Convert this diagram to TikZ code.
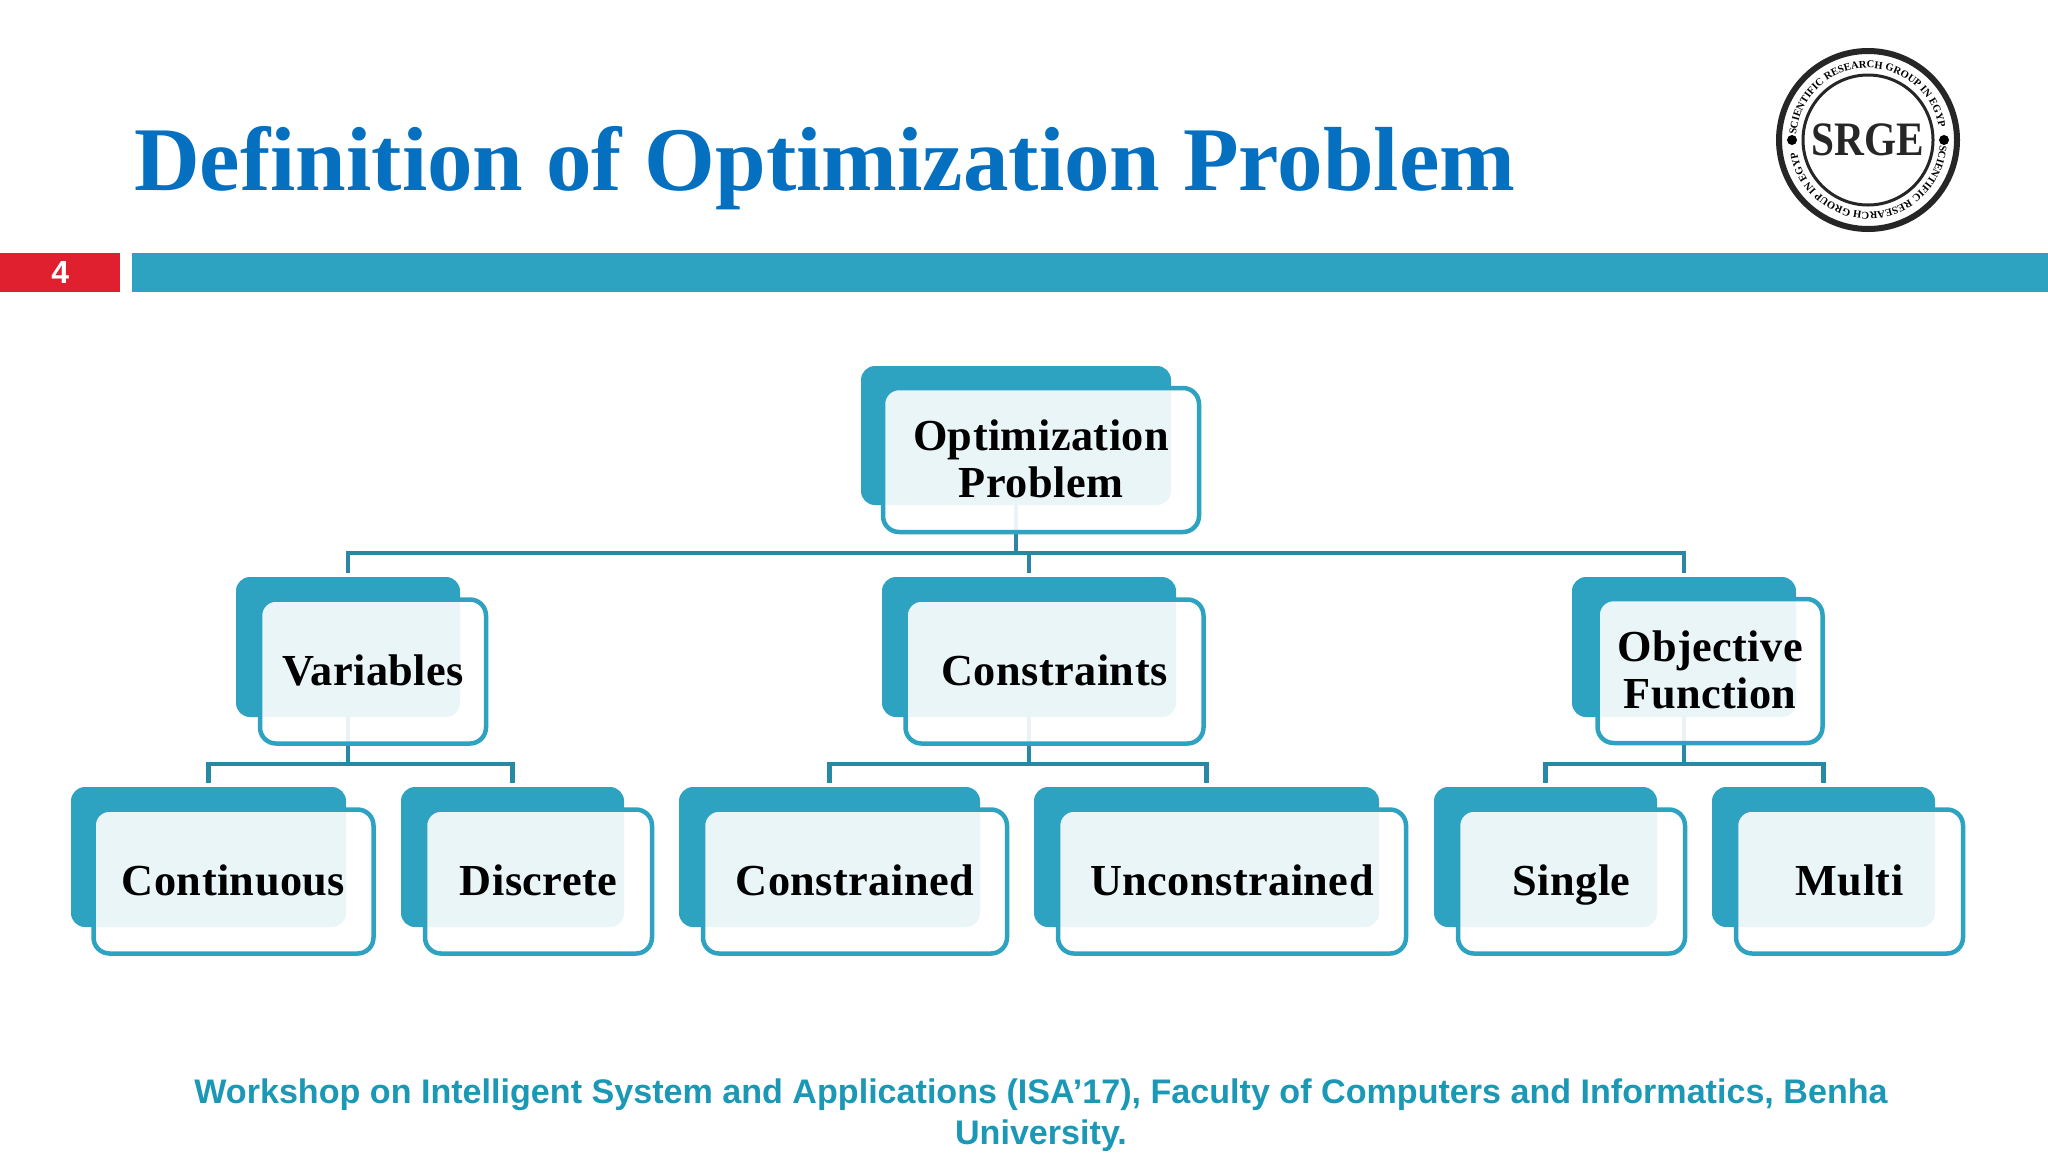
\documentclass[tikz,border=0pt]{standalone}
\usepackage{graphicx}
\usepackage{fontspec}
\setmainfont{Liberation Serif}
\newfontfamily\boxfont[LetterSpace=1]{Liberation Serif}
\newfontfamily\footfont{Liberation Sans}
\usetikzlibrary{decorations.text}
\definecolor{slideteal}{HTML}{2EA2C1}
\definecolor{railteal}{HTML}{2C85A2}
\definecolor{titleblue}{HTML}{0570C0}
\definecolor{barred}{HTML}{E0202E}
\definecolor{footteal}{HTML}{1B98B6}
\tikzset{
	backbox/.style={fill=slideteal,rounded corners=14pt,inner sep=0pt,minimum height=140pt},
	frontbox/.style={draw=slideteal,line width=4.5pt,fill=white,fill opacity=0.9,text opacity=1,rounded corners=16pt,inner sep=0pt,minimum height=144pt,align=center,text=black,text depth=3pt,font=\boxfont\bfseries\fontsize{44.3}{47}\selectfont},
	rail/.style={draw=railteal,line width=4.5pt,shorten >=4pt},
	lowrail/.style={draw=slideteal!85!black,line width=4.5pt,shorten >=4pt},
	bar/.style={inner sep=0pt,minimum height=39pt,anchor=west},
	sealtext/.style={decorate,decoration={text along path,text align=center,text={|\fontsize{10.5}{11}\bfseries\selectfont|SCIENTIFIC RESEARCH GROUP IN EGYPT}}},
	sealdot/.style={circle,fill=black,inner sep=0pt,minimum size=10pt}
}
\begin{document}
\begin{tikzpicture}[x=1pt,y=-1pt]
	\useasboundingbox (0,0) rectangle (2048,1152);
	% heading
	\node[anchor=base west,inner sep=0pt,text=titleblue,font=\bfseries\fontsize{91}{90}\selectfont] (title) at (134,190) {Definition of Optimization Problem};
	\node[bar,fill=barred,minimum width=120pt,text=white,font=\footfont\bfseries\fontsize{32}{32}\selectfont] (pagebar) at (0,272) {4};
	\node[bar,fill=slideteal,minimum width=1916pt] (topbar) at (132,272) {};
	% seal
	\node[circle,draw=black!85,line width=6pt,fill=white,inner sep=0pt,minimum size=178pt] (seal) at (1868,140) {};
	\node[circle,draw=black!85,line width=3pt,inner sep=0pt,minimum size=130pt,font=\bfseries\fontsize{48}{48}\selectfont,text=black!85] (sealin) at (1868,140) {\scalebox{0.86}[1]{SRGE}};
	\node[sealdot] (sealleft) at (1792,140) {};
	\node[sealdot] (sealright) at (1944,140) {};
	\path[sealtext] ([shift={(172:72pt)}]seal.center) arc (172:8:72pt);
	\path[sealtext] ([shift={(-8:72pt)}]seal.center) arc (-8:-172:72pt);
	% back plates
	\node[backbox,minimum width=310pt,minimum height=139pt] (optback) at (1016,435.5) {};
	\node[backbox,minimum width=224pt] (varback) at (348,647) {};
	\node[backbox,minimum width=294pt] (conback) at (1029,647) {};
	\node[backbox,minimum width=224pt] (objback) at (1684,647) {};
	\node[backbox,minimum width=275pt] (contback) at (208.5,857) {};
	\node[backbox,minimum width=223pt] (discback) at (512.5,857) {};
	\node[backbox,minimum width=301pt] (cstrback) at (829.5,857) {};
	\node[backbox,minimum width=345pt] (uncback) at (1206.5,857) {};
	\node[backbox,minimum width=223pt] (singback) at (1545.5,857) {};
	\node[backbox,minimum width=223pt] (multback) at (1823.5,857) {};
	% connectors
	\coordinate (toprail) at (0,553);
	\coordinate (lowrail) at (0,764);
	\draw[rail] (optback.south) -- (optback.south |- toprail) -| (varback.north);
	\draw[rail] (optback.south) -- (optback.south |- toprail) -| (objback.north);
	\draw[rail] (optback.south |- toprail) -| (conback.north);
	\draw[lowrail] (varback.south) -- (varback.south |- lowrail) -| (contback.north);
	\draw[lowrail] (varback.south) -- (varback.south |- lowrail) -| (discback.north);
	\draw[lowrail] (conback.south) -- (conback.south |- lowrail) -| (cstrback.north);
	\draw[lowrail] (conback.south) -- (conback.south |- lowrail) -| (uncback.north);
	\draw[lowrail] (objback.south) -- (objback.south |- lowrail) -| (singback.north);
	\draw[lowrail] (objback.south) -- (objback.south |- lowrail) -| (multback.north);
	% front boxes
	\node[frontbox,minimum width=316pt] (opt) at (1041,460) {Optimization\\Problem};
	\node[frontbox,minimum width=226pt] (var) at (373,671.5) {Variables};
	\node[frontbox,minimum width=298pt] (con) at (1054.5,671.5) {Constraints};
	\node[frontbox,minimum width=225pt] (obj) at (1710,671) {Objective\\Function};
	\node[frontbox,minimum width=280pt] (cont) at (233.5,881.5) {Continuous};
	\node[frontbox,minimum width=227pt] (disc) at (538.5,881.5) {Discrete};
	\node[frontbox,minimum width=304pt] (cstr) at (855,881.5) {Constrained};
	\node[frontbox,minimum width=348pt] (unc) at (1232,881.5) {Unconstrained};
	\node[frontbox,minimum width=227pt] (sing) at (1571.5,881.5) {Single};
	\node[frontbox,minimum width=227pt] (mult) at (1849.5,881.5) {Multi};
	% footer
	\node[align=center,inner sep=0pt,text=footteal,font=\footfont\bfseries\fontsize{34.1}{41}\selectfont] (foot) at (1041,1115) {Workshop on Intelligent System and Applications (ISA’17), Faculty of Computers and Informatics, Benha\\University.};
\end{tikzpicture}
\end{document}
